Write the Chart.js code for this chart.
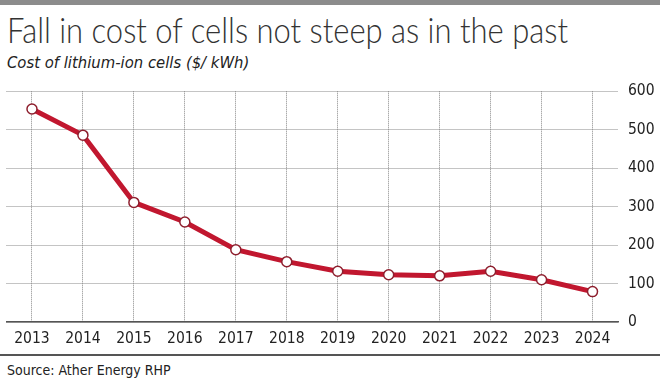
<!DOCTYPE html>
<html>
<head>
<meta charset="utf-8">
<script src="https://cdn.jsdelivr.net/npm/chart.js@4.4.1/dist/chart.umd.min.js"></script>
<style>
  html, body { margin: 0; padding: 0; background: #fff; }
  #wrap { position: relative; width: 660px; height: 379px; overflow: hidden; }
  #topbar { position: absolute; left: 0; top: 0; width: 660px; height: 5px; background: #8c8c8c; }
  #title { position: absolute; left: 7px; top: 7px; font-family: Lato, "Open Sans", sans-serif; font-weight: 300;
           font-size: 36px; line-height: 44px; color: #333; white-space: nowrap; transform-origin: 0 0; }
  #subtitle { position: absolute; left: 7px; top: 52px; font-family: "DejaVu Sans Condensed", sans-serif;
              font-style: italic; font-size: 16.5px; line-height: 22px; color: #222; white-space: nowrap; }
  #chartBox { position: absolute; left: 0; top: 72px; width: 660px; height: 280px; }
  #rule { position: absolute; left: 0; top: 354px; width: 660px; height: 2px; background: #555; }
  #source { position: absolute; left: 7px; top: 361px; font-family: "DejaVu Sans Condensed", sans-serif;
            font-size: 14px; line-height: 18px; color: #222; white-space: nowrap; }
</style>
</head>
<body>
<div id="wrap">
  <div id="topbar"></div>
  <div id="title">Fall in cost of cells not steep as in the past</div>
  <div id="subtitle">Cost of lithium-ion cells ($/ kWh)</div>
  <div id="chartBox"><canvas id="cellCost"></canvas></div>
  <div id="rule"></div>
  <div id="source">Source: Ather Energy RHP</div>
</div>
<script>
// data
const years = ['2013', '2014', '2015', '2016', '2017', '2018', '2019', '2020', '2021', '2022', '2023', '2024'];
const costPerKwh = [554, 486, 311, 260, 188, 157, 132, 123, 120, 132, 110, 79];
const yTicks = [0, 100, 200, 300, 400, 500, 600];

// squeeze the light title to the width it has in the print
const title = document.getElementById('title');
const natural = title.getBoundingClientRect().width;
title.style.transform = 'scaleX(' + (561 / natural) + ')';

const narrow = '"DejaVu Sans Condensed", sans-serif';
const ctx = document.getElementById('cellCost').getContext('2d');

const config = {
  type: 'line',
  data: {
    labels: years,
    datasets: [
      {
        label: 'Cost of lithium-ion cells ($/ kWh)',
        data: costPerKwh,
        borderColor: '#c1172f',
        borderWidth: 5,
        tension: 0,
        pointRadius: 5,
        pointBackgroundColor: '#ffffff',
        pointBorderColor: '#8e1f2e',
        pointBorderWidth: 1.5,
      },
    ],
  },
  options: {
    responsive: true,
    maintainAspectRatio: false,
    animation: false,
    layout: { padding: { left: 5, top: 8, right: 0, bottom: 0 } },
    plugins: { legend: { display: false }, tooltip: { enabled: false } },
    scales: {
      x: {
        offset: true,
        grid: { color: '#888', lineWidth: 1, drawTicks: false, offset: false },
        border: { display: true, color: '#555', width: 1.5, dash: [1, 1] },
        ticks: { color: '#222', padding: 8, font: { family: narrow, size: 15.5 }, maxRotation: 0, autoSkip: false },
        afterFit: (scale) => { scale.height = 30; },
      },
      y: {
        position: 'right',
        min: 0,
        max: 600,
        afterBuildTicks: (scale) => { scale.ticks = yTicks.map((v) => ({ value: v })); },
        grid: { color: '#888', lineWidth: 1, drawTicks: false },
        border: { display: false, dash: [1, 1] },
        ticks: { color: '#222', padding: 10, font: { family: narrow, size: 15.5 } },
        afterFit: (scale) => { scale.width = 42; },
      },
    },
  },
};

const cellChart = new Chart(ctx, config);
</script>
</body>
</html>
